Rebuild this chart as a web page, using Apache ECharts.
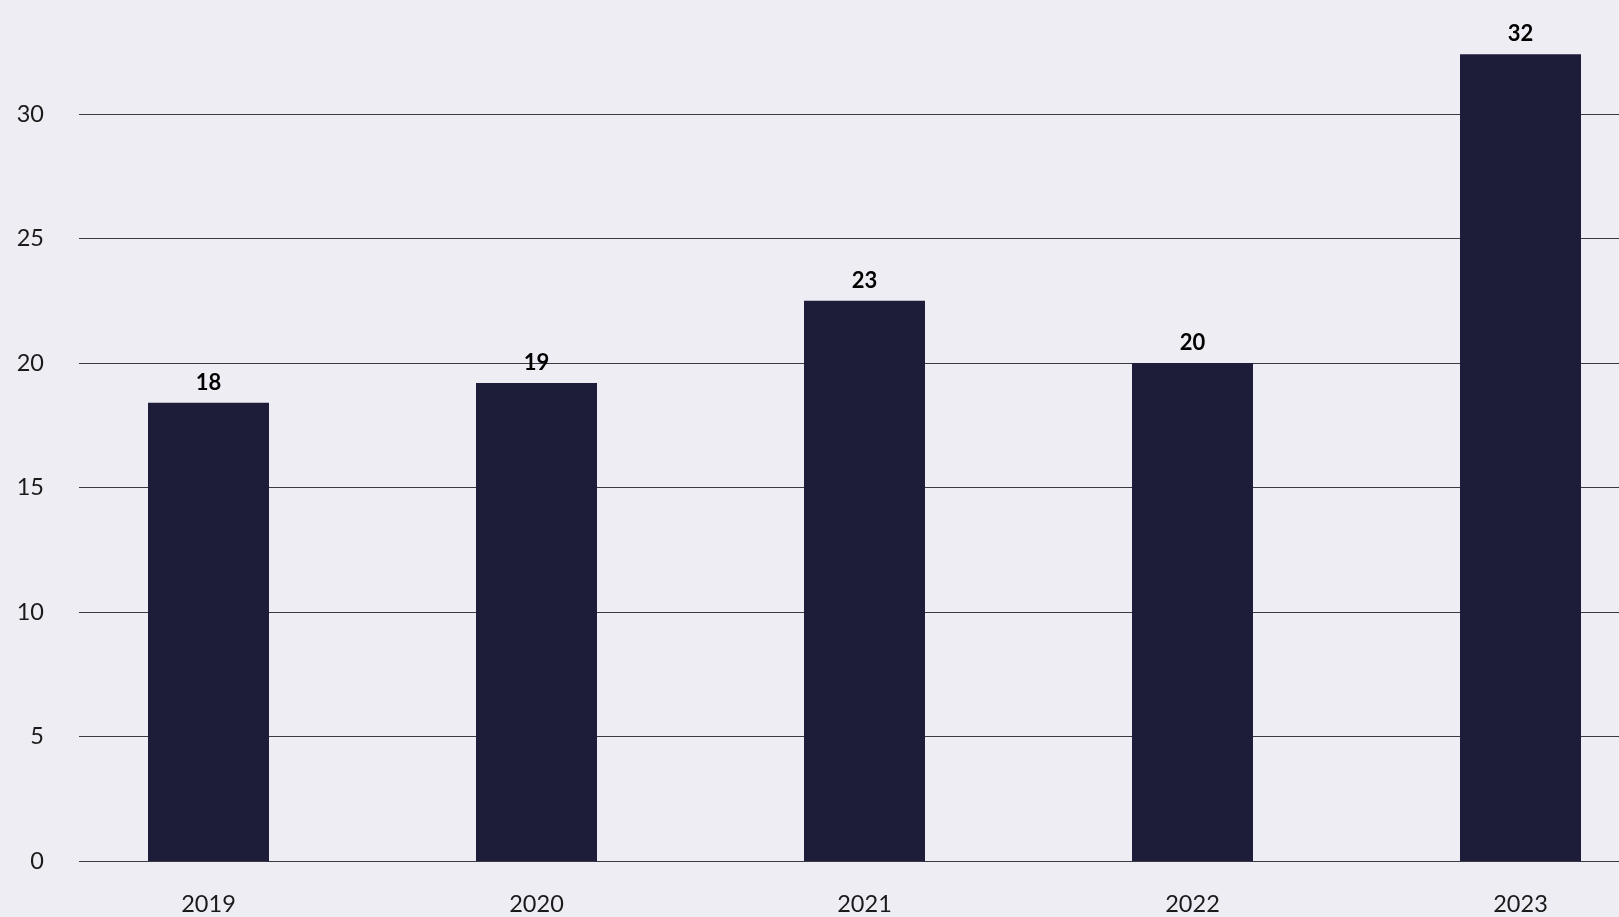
<!DOCTYPE html>
<html>
<head>
<meta charset="utf-8">
<style>
  html, body { margin: 0; padding: 0; background: #EFEDF4; }
  #chart { width: 1619px; height: 917px; }
</style>
<script src="https://cdn.jsdelivr.net/npm/echarts@6/dist/echarts.min.js"></script>
</head>
<body>
<div id="chart"></div>
<script>
const categories = ['2019', '2020', '2021', '2022', '2023'];
const values = [18.4, 19.2, 22.5, 20.0, 32.4];
const yTicks = [0, 5, 10, 15, 20, 25, 30];

const chart = echarts.init(document.getElementById('chart'));
const FONT = 'Lato, "Noto Sans", sans-serif';
const option = {
  backgroundColor: '#EFEDF4',
  animation: false,
  grid: [
    { left: 79, right: 0, top: -10.5, bottom: 56, outerBoundsMode: 'none', containLabel: false },
    { left: 208.5, right: 98.5, top: -10.5, bottom: 56, outerBoundsMode: 'none', containLabel: false }
  ],
  xAxis: [
    { type: 'category', gridIndex: 0, data: categories, show: false },
    {
      type: 'category', gridIndex: 1, data: categories, boundaryGap: false,
      axisLine: { show: false }, axisTick: { show: false },
      axisLabel: { color: '#1a1a1a', fontFamily: FONT, fontSize: 23.5, margin: 31 }
    }
  ],
  yAxis: [
    {
      type: 'value', gridIndex: 0, min: 0, max: 35, interval: 5,
      axisLine: { show: false }, axisTick: { show: false },
      axisLabel: {
        color: '#1a1a1a', fontFamily: FONT, fontSize: 23.5, margin: 35,
        padding: [4, 0, 0, 0],
        formatter: v => yTicks.includes(v) ? String(v) : ''
      },
      splitLine: { lineStyle: { color: '#3a3a44', width: 1 } }
    },
    {
      type: 'value', gridIndex: 1, min: 0, max: 35, interval: 5, show: false
    }
  ],
  series: [{
    type: 'bar',
    xAxisIndex: 1, yAxisIndex: 1,
    data: values,
    barWidth: 121,
    itemStyle: { color: '#1E1D39' },
    label: {
      show: true, position: 'top', distance: 9,
      color: '#000', fontFamily: FONT, fontWeight: 'bold', fontSize: 22,
      formatter: p => String(Math.round(p.value))
    }
  }]
};
chart.setOption(option);
</script>
</body>
</html>
